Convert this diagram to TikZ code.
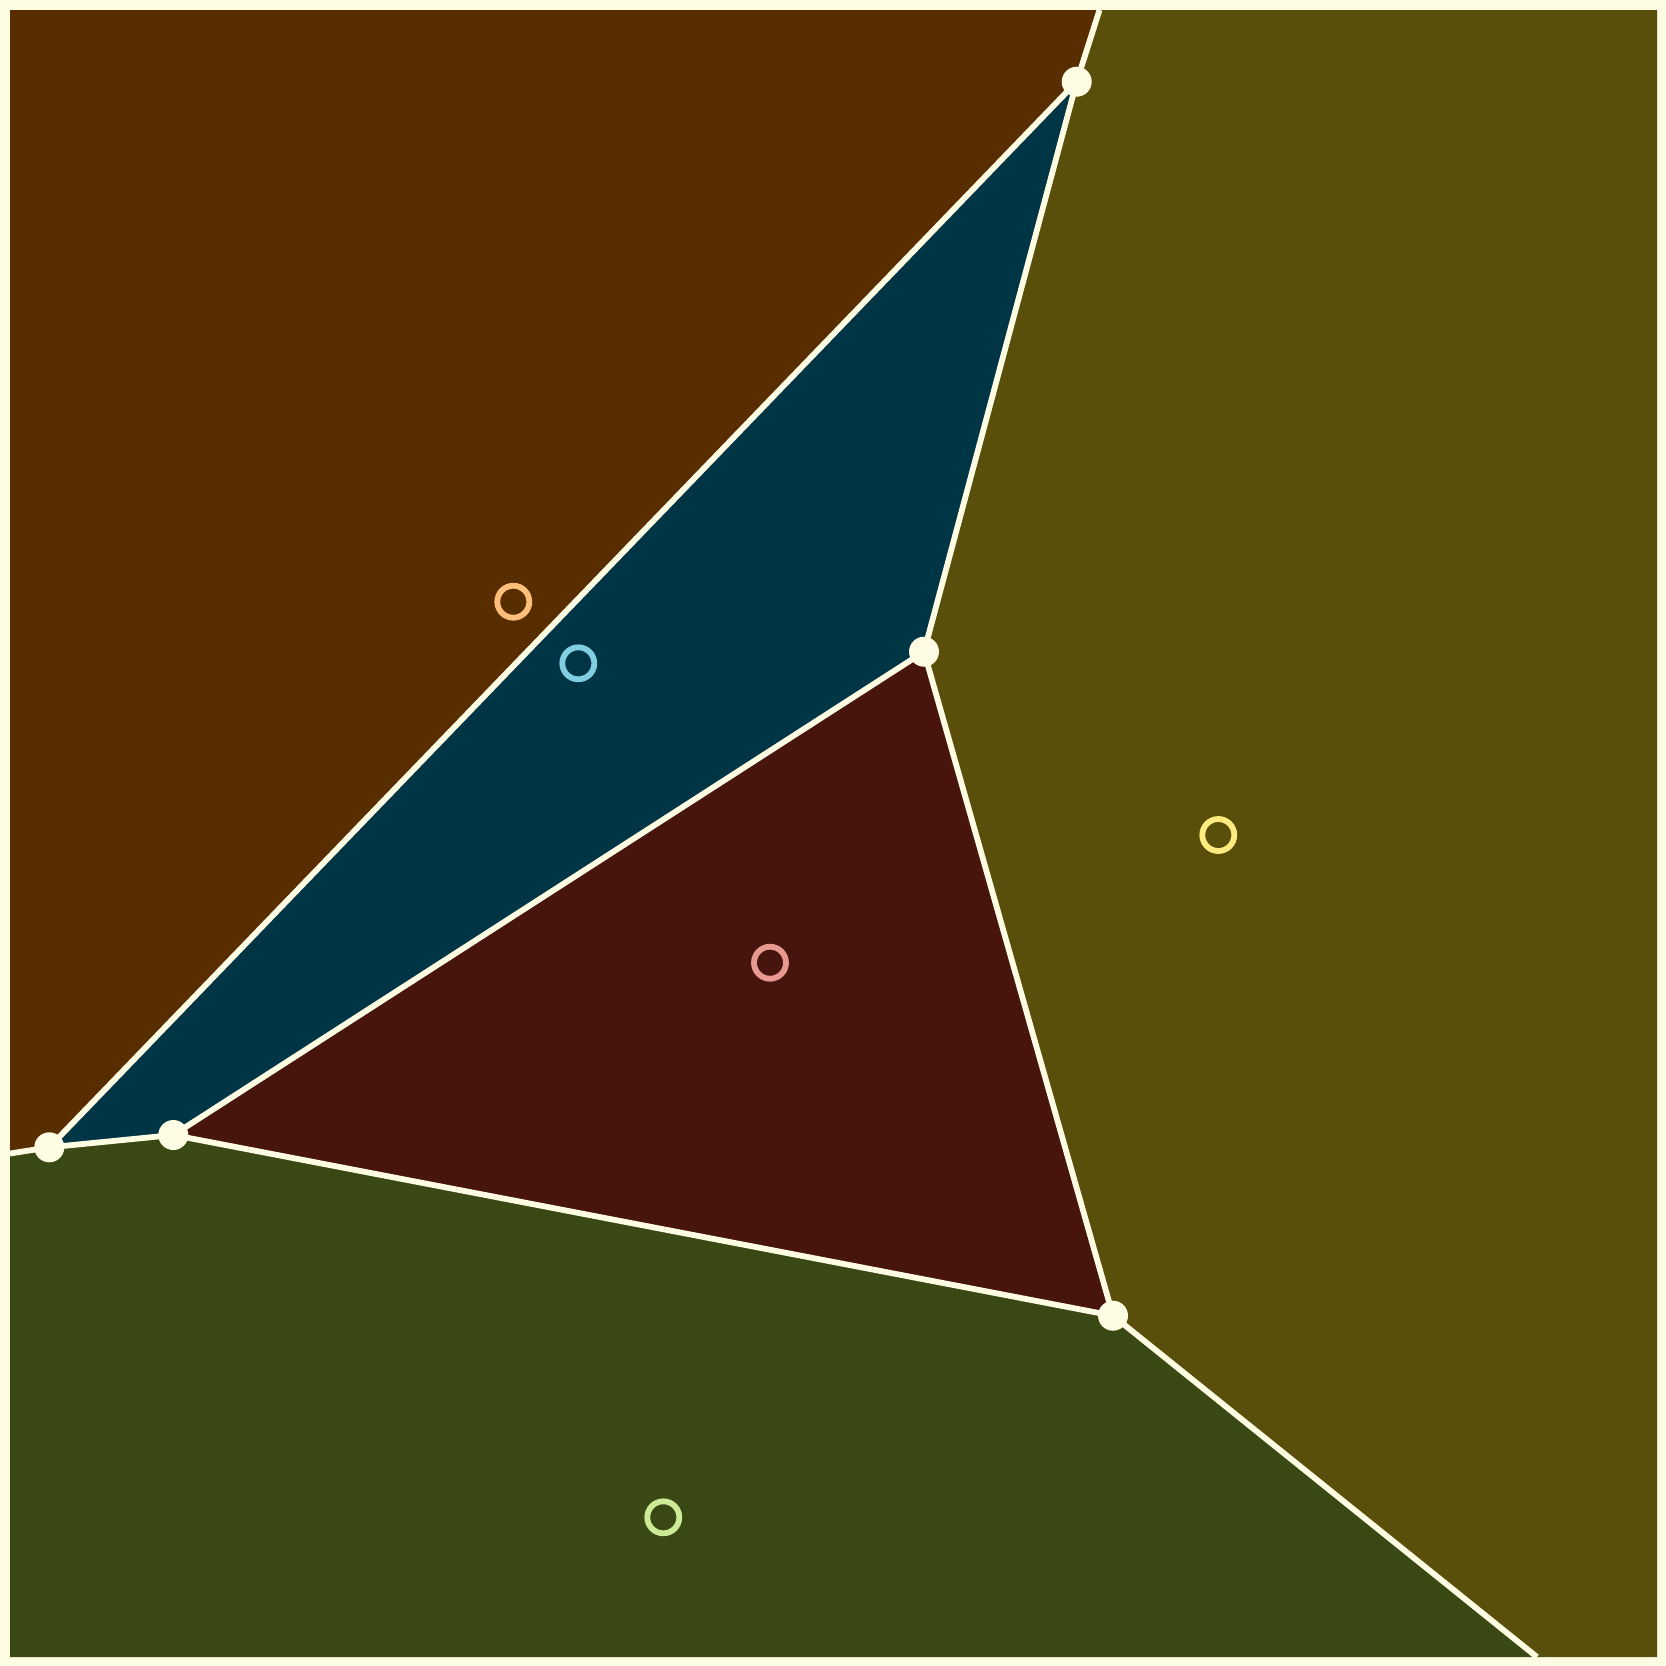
\documentclass[tikz,border=0pt]{standalone}
\usepackage{xcolor}
\usepackage{tikz}
\definecolor{cream}{HTML}{FFFCE4}
\definecolor{cellbrown}{HTML}{582D00}
\definecolor{cellblue}{HTML}{003545}
\definecolor{cellolive}{HTML}{594F0A}
\definecolor{cellred}{HTML}{48140E}
\definecolor{cellgreen}{HTML}{3A4914}
\definecolor{siteorange}{HTML}{FFBF7A}
\definecolor{siteblue}{HTML}{80CEE1}
\definecolor{siteyellow}{HTML}{FFEB80}
\definecolor{sitepink}{HTML}{E89A90}
\definecolor{sitegreen}{HTML}{CDEA96}

\begin{document}
\begin{tikzpicture}[
  x=0.1mm, y=-0.1mm,
  edge/.style={draw=cream, line width=0.58mm},
  vdot/.style={circle, fill=cream, inner sep=0pt, minimum size=3.0mm},
  site/.style={circle, draw=#1, line width=0.58mm, inner sep=0pt, minimum size=3.2mm},
]

  \fill[cream] (0,0) rectangle (1666,1666);
  \useasboundingbox (0,0) rectangle (1666,1666);

  % voronoi vertices and border ends
  \coordinate (v1) at (1076.7,81.7);
  \coordinate (v2) at (924,651.7);
  \coordinate (v3) at (1113,1315.7);
  \coordinate (v4) at (49.3,1147.3);
  \coordinate (v5) at (173.3,1135);
  \coordinate (etop) at (1099.5,10);
  \coordinate (eleft) at (10,1153.5);
  \coordinate (ebot) at (1537,1657);

  % cells
  \fill[cellbrown] (10,10) -- (etop) -- (v1) -- (v4) -- (eleft) -- cycle;
  \fill[cellolive] (etop) -- (1657,10) -- (1657,1657) -- (ebot) -- (v3) -- (v2) -- (v1) -- cycle;
  \fill[cellblue] (v1) -- (v2) -- (v5) -- (v4) -- cycle;
  \fill[cellred] (v2) -- (v3) -- (v5) -- cycle;
  \fill[cellgreen] (eleft) -- (v4) -- (v5) -- (v3) -- (ebot) -- (10,1657) -- cycle;

  % edges
  \draw[edge] (etop) -- (v1);
  \draw[edge] (v1) -- (v4);
  \draw[edge] (v1) -- (v2);
  \draw[edge] (v2) -- (v5);
  \draw[edge] (v2) -- (v3);
  \draw[edge] (v5) -- (v4);
  \draw[edge] (v5) -- (v3);
  \draw[edge] (v4) -- (eleft);
  \draw[edge] (v3) -- (ebot);

  \foreach \v in {v1,v2,v3,v4,v5}
    \node[vdot] (dot-\v) at (\v) {};

  % sites
  \node[site=siteorange] (sorange) at (513.3,601.7) {};
  \node[site=siteblue] (sblue) at (578.3,663.3) {};
  \node[site=siteyellow] (syellow) at (1218.3,835) {};
  \node[site=sitepink] (spink) at (770,962.7) {};
  \node[site=sitegreen] (sgreen) at (663.3,1517.3) {};

\end{tikzpicture}
\end{document}
